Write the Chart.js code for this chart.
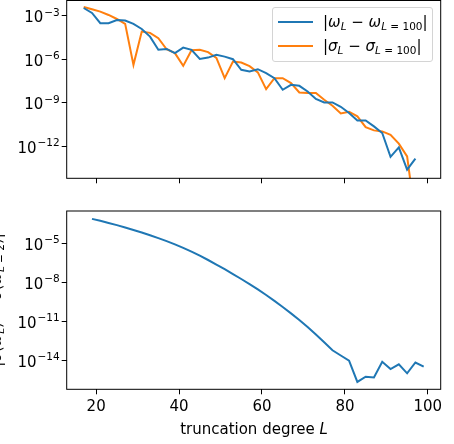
<!DOCTYPE html>
<html>
<head>
<meta charset="utf-8">
<script src="https://cdn.jsdelivr.net/npm/chart.js@4.4.1/dist/chart.umd.min.js"></script>
<style>
  html, body { margin: 0; padding: 0; background: #fff; overflow: hidden; }
  #wrap { position: relative; width: 454px; height: 444px; font-family: "DejaVu Sans", sans-serif; color: #000; }
  #wrap canvas { position: absolute; left: 0; top: 0; }
  .legend { position: absolute; left: 272px; top: 7px; width: 159px; height: 53px;
            border: 1px solid #d4d4d4; border-radius: 3px; background: rgba(255,255,255,0.8); font-size: 15px; }
  .legend .swatch { position: absolute; left: 5px; width: 35px; height: 2px; }
  .legend .txt { position: absolute; left: 50px; white-space: nowrap; line-height: 18px; }
  sub { font-size: 0.7em; vertical-align: -0.3em; line-height: 0; }
  .xlabel { position: absolute; left: 67px; width: 374px; top: 420px; text-align: center;
            font-size: 15px; line-height: 18px; white-space: nowrap; }
  .ylabel { position: absolute; left: -104px; top: 291px; width: 200px; height: 18px; line-height: 18px;
            text-align: center; font-size: 15px; white-space: nowrap; transform: rotate(-90deg); }
</style>
</head>
<body>
<div id="wrap">
  <canvas id="topChart" width="454" height="444"></canvas>
  <canvas id="bottomChart" width="454" height="444"></canvas>
  <div class="legend">
    <div class="swatch" style="top:13px;background:#1f77b4"></div>
    <div class="txt" style="top:5px">|<i>ω</i><sub><i>L</i></sub> − <i>ω</i><sub><i>L</i> = 100</sub>|</div>
    <div class="swatch" style="top:37px;background:#ff7f0e"></div>
    <div class="txt" style="top:29px">|<i>σ</i><sub><i>L</i></sub> − <i>σ</i><sub><i>L</i> = 100</sub>|</div>
  </div>
  <div class="xlabel">truncation degree <i>L</i></div>
  <div class="ylabel">|<i>σ</i>(<i>ω</i><sub><i>L</i></sub>) − <i>σ</i>(<i>ω</i><sub><i>L</i> = 2</sub>)|</div>
</div>
<script>
// truncation degrees
const L_TOP = [17, 19, 21, 23, 25, 27, 29, 31, 33, 35, 37, 39, 41, 43, 45, 47, 49, 51, 53, 55, 57,
               59, 61, 63, 65, 67, 69, 71, 73, 75, 77, 79, 81, 83, 85, 87, 89, 91, 93, 95, 97];
const L_BOTTOM = [19, 21, 23, 25, 27, 29, 31, 33, 35, 37, 39, 41, 43, 45, 47, 49, 51, 53, 55, 57, 59,
                  61, 63, 65, 67, 69, 71, 73, 75, 77, 79, 81, 83, 85, 87, 89, 91, 93, 95, 97, 99];

// top panel: |omega_L - omega_100| and |sigma_L - sigma_100|
const omegaDiff = [3.55e-3, 1.62e-3, 3.16e-4, 3.16e-4, 5.25e-4, 4.79e-4, 2.82e-4, 1.26e-4, 3.72e-5, 4.57e-6,
                   5.25e-6, 2.69e-6, 6.46e-6, 4.57e-6, 1.07e-6, 1.32e-6, 2.04e-6, 1.55e-6, 1.02e-6, 1.91e-7,
                   1.48e-7, 2.09e-7, 1.12e-7, 5.01e-8, 7.94e-9, 1.74e-8, 1.48e-8, 6.03e-9, 1.82e-9, 1.05e-9,
                   1.05e-9, 5.25e-10, 1.95e-10, 6.03e-11, 6.03e-11, 2.34e-11, 8.13e-12, 1.82e-13, 8.32e-13, 2.40e-14,
                   1.38e-13];
const sigmaDiff = [4.17e-3, 2.88e-3, 2.00e-3, 1.17e-3, 6.17e-4, 2.82e-4, 4.17e-7, 8.32e-5, 6.76e-5, 2.88e-5,
                   5.01e-6, 2.69e-6, 3.55e-7, 4.27e-6, 4.57e-6, 3.16e-6, 1.26e-6, 5.01e-8, 7.08e-7, 6.03e-7,
                   3.39e-7, 1.26e-7, 8.71e-9, 5.01e-8, 5.01e-8, 2.29e-8, 5.13e-9, 4.68e-9, 4.68e-9, 1.62e-9,
                   6.17e-10, 1.82e-10, 2.40e-10, 1.15e-10, 2.09e-11, 1.23e-11, 1.05e-11, 6.17e-12, 1.48e-12, 1.95e-13,
                   1e-17];

// bottom panel
const lowDiff = [7.41e-4, 5.25e-4, 3.63e-4, 2.45e-4, 1.62e-4, 1.05e-4, 6.61e-5, 4.07e-5, 2.45e-5, 1.45e-5,
                 8.13e-6, 4.37e-6, 2.24e-6, 1.10e-6, 5.13e-7, 2.29e-7, 1.00e-7, 4.27e-8, 1.78e-8, 7.24e-9,
                 2.82e-9, 1.05e-9, 3.72e-10, 1.26e-10, 4.07e-11, 1.26e-11, 3.63e-12, 9.77e-13, 2.45e-13, 5.89e-14,
                 2.34e-14, 9.55e-15, 2.19e-16, 5.50e-16, 4.79e-16, 7.59e-15, 2.14e-15, 4.90e-15, 1.00e-15, 6.76e-15,
                 3.24e-15];

const X_TICKS = [20, 40, 60, 80, 100];
const TOP_Y_TICKS = [1e-3, 1e-6, 1e-9, 1e-12];
const BOTTOM_Y_TICKS = [1e-5, 1e-8, 1e-11, 1e-14];

const BLUE = '#1f77b4';
const ORANGE = '#ff7f0e';
const FONT = '"DejaVu Sans", sans-serif';

// frame on all four sides + 10^{-n} tick labels with a real superscript
const framePlugin = {
    id: 'frame',
    afterDraw(chart) {
        const { ctx, chartArea: a } = chart;
        const y = chart.scales.y;
        ctx.save();
        ctx.strokeStyle = '#000';
        ctx.lineWidth = 1;
        ctx.strokeRect(a.left, a.top, a.right - a.left, a.bottom - a.top);

        ctx.fillStyle = '#000';
        ctx.textAlign = 'left';
        ctx.textBaseline = 'alphabetic';
        y.ticks.forEach(t => {
            const exp = Math.round(Math.log10(t.value));
            const sup = '\u2212' + String(-exp);
            const py = y.getPixelForValue(t.value);
            ctx.font = '10.5px ' + FONT;
            const w2 = ctx.measureText(sup).width;
            ctx.font = '15px ' + FONT;
            const w1 = ctx.measureText('10').width;
            const right = a.left - 7;
            ctx.fillText('10', right - w2 - w1 - 1, py + 6.5);
            ctx.font = '10.5px ' + FONT;
            ctx.fillText(sup, right - w2, py + 6.5 - 6.5);
        });
        ctx.restore();
    }
};

function line(xs, ys, color) {
    return {
        data: xs.map((x, i) => ({ x, y: ys[i] })),
        borderColor: color,
        backgroundColor: color,
        borderWidth: 2,
        pointRadius: 0,
        tension: 0,
        fill: false
    };
}

function makeChart(id, datasets, yTicks, yMin, yMax, padding, xAxisHeight, showXLabels) {
    return new Chart(document.getElementById(id), {
        type: 'line',
        data: { datasets },
        options: {
            responsive: false,
            animation: false,
            layout: { padding },
            plugins: { legend: { display: false }, tooltip: { enabled: false } },
            scales: {
                x: {
                    type: 'linear',
                    min: 12.9,
                    max: 103.1,
                    afterBuildTicks: s => { s.ticks = X_TICKS.map(v => ({ value: v })); },
                    afterFit: s => { s.height = xAxisHeight; },
                    border: { display: false },
                    grid: { drawOnChartArea: false, drawTicks: true, tickLength: 5, color: '#000', lineWidth: 1 },
                    ticks: {
                        display: showXLabels,
                        padding: 4,
                        color: '#000',
                        font: { family: FONT, size: 15 },
                        callback: v => String(v)
                    }
                },
                y: {
                    type: 'logarithmic',
                    min: yMin,
                    max: yMax,
                    afterBuildTicks: s => { s.ticks = yTicks.map(v => ({ value: v })); },
                    afterFit: s => { s.width = 66.7; },
                    border: { display: false },
                    grid: { drawOnChartArea: false, drawTicks: true, tickLength: 5, color: '#000', lineWidth: 1 },
                    ticks: { display: false }
                }
            }
        },
        plugins: [framePlugin]
    });
}

makeChart('topChart',
    [line(L_TOP, omegaDiff, BLUE), line(L_TOP, sigmaDiff, ORANGE)],
    TOP_Y_TICKS, 6.46e-15, 1.17e-2,
    { top: 0.5, left: 0, right: 13.3, bottom: 260.7 }, 5, false);

makeChart('bottomChart',
    [line(L_BOTTOM, lowDiff, BLUE)],
    BOTTOM_Y_TICKS, 5.9e-17, 3.0e-3,
    { top: 211, left: 0, right: 13.3, bottom: 14.7 }, 40, true);
</script>
</body>
</html>
